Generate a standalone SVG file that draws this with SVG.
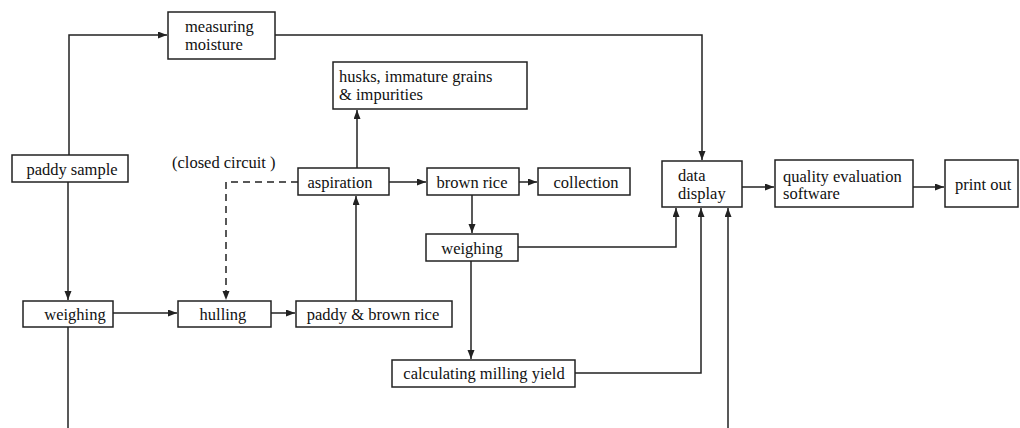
<svg xmlns="http://www.w3.org/2000/svg" width="1020" height="428" viewBox="0 0 1020 428">
<style>
.box{fill:#fff;stroke:#222;stroke-width:1.5}
.t{font-family:"Liberation Serif","Times New Roman",serif;font-size:16.5px;fill:#111}
.c{text-anchor:middle}
.ln{fill:none;stroke:#222;stroke-width:1.5}
.dash{stroke-dasharray:7,5}
</style>
<defs>
<marker id="ah" markerUnits="userSpaceOnUse" markerWidth="10" markerHeight="8" refX="9" refY="3.5" orient="auto">
<path d="M0,0 L9,3.5 L0,7 z" fill="#222"/>
</marker>
</defs>
<g id="connectors">
<path class="ln" d="M69,155 V35 H167" marker-end="url(#ah)"/>
<path class="ln" d="M275,35 H702 V160" marker-end="url(#ah)"/>
<path class="ln" d="M68,182 V300" marker-end="url(#ah)"/>
<path class="ln" d="M68,327 V428"/>
<path class="ln" d="M113,313 H177" marker-end="url(#ah)"/>
<path class="ln" d="M271,313 H295" marker-end="url(#ah)"/>
<path class="ln dash" d="M298,182 H226 V300" marker-end="url(#ah)"/>
<path class="ln" d="M356,301 V196" marker-end="url(#ah)"/>
<path class="ln" d="M357,168 V110" marker-end="url(#ah)"/>
<path class="ln" d="M389,182 H426" marker-end="url(#ah)"/>
<path class="ln" d="M519,182 H537" marker-end="url(#ah)"/>
<path class="ln" d="M472,195 V233" marker-end="url(#ah)"/>
<path class="ln" d="M518,247 H676 V208" marker-end="url(#ah)"/>
<path class="ln" d="M471,261 V359" marker-end="url(#ah)"/>
<path class="ln" d="M575,373 H701 V208" marker-end="url(#ah)"/>
<path class="ln" d="M728,428 V208" marker-end="url(#ah)"/>
<path class="ln" d="M742,187 H774" marker-end="url(#ah)"/>
<path class="ln" d="M913,187 H944" marker-end="url(#ah)"/>
</g>
<g id="measuring-moisture"><rect class="box" x="168" y="12" width="107" height="47"/><text class="t" x="185" y="32">measuring</text><text class="t" x="185" y="50">moisture</text></g>
<g id="paddy-sample"><rect class="box" x="12" y="155" width="116" height="27"/><text class="t c" x="72" y="175">paddy sample</text></g>
<g id="closed-circuit"><text class="t" x="172" y="168">(closed circuit )</text></g>
<g id="husks"><rect class="box" x="333" y="62" width="194" height="47"/><text class="t" x="339" y="82">husks, immature grains</text><text class="t" x="339" y="100">&amp; impurities</text></g>
<g id="aspiration"><rect class="box" x="298" y="168" width="91" height="27"/><text class="t c" x="340" y="188">aspiration</text></g>
<g id="brown-rice"><rect class="box" x="427" y="168" width="92" height="27"/><text class="t c" x="472" y="188">brown rice</text></g>
<g id="collection"><rect class="box" x="538" y="168" width="92" height="27"/><text class="t c" x="586" y="188">collection</text></g>
<g id="weighing2"><rect class="box" x="426" y="234" width="92" height="27"/><text class="t c" x="472" y="254">weighing</text></g>
<g id="weighing1"><rect class="box" x="23" y="301" width="90" height="26"/><text class="t c" x="75" y="320">weighing</text></g>
<g id="hulling"><rect class="box" x="178" y="301" width="93" height="26"/><text class="t c" x="223" y="320">hulling</text></g>
<g id="paddy-brown-rice"><rect class="box" x="296" y="301" width="156" height="26"/><text class="t c" x="373" y="320">paddy &amp; brown rice</text></g>
<g id="calculating"><rect class="box" x="392" y="360" width="183" height="27"/><text class="t c" x="484" y="379">calculating milling yield</text></g>
<g id="data-display"><rect class="box" x="662" y="161" width="80" height="46"/><text class="t" x="678" y="181">data</text><text class="t" x="678" y="199">display</text></g>
<g id="quality"><rect class="box" x="775" y="160" width="138" height="47"/><text class="t" x="783" y="182">quality evaluation</text><text class="t" x="783" y="199">software</text></g>
<g id="print-out"><rect class="box" x="945" y="160" width="73" height="47"/><text class="t" x="955" y="190">print out</text></g>
</svg>
